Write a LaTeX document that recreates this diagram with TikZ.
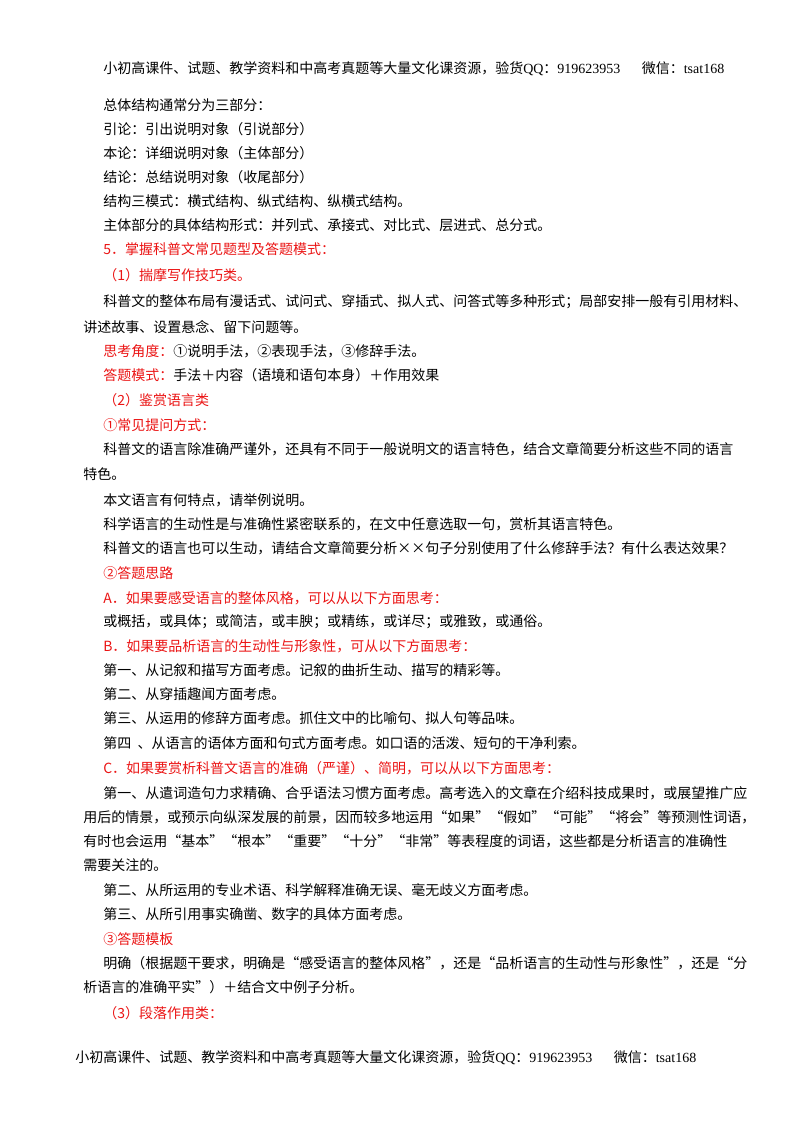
\documentclass[tikz,border=0pt]{standalone}
\usepackage{fontspec}
\setmainfont{Liberation Serif}
\newfontfamily\cjk{Noto Sans CJK SC}
\definecolor{myred}{RGB}{235,20,20}
\begin{document}
\begin{tikzpicture}[x=0.75pt,y=-0.75pt,
  every node/.style={anchor=base west,inner sep=0pt,font=\cjk\fontsize{10.5}{12}\selectfont},
  rd/.style={text=myred}]
\useasboundingbox[fill=white] (0,0) rectangle (800,1132);
\node (h) at (103,73) {小初高课件、试题、教学资料和中高考真题等大量文化课资源，验货{\rmfamily QQ}：{\rmfamily 919623953}\hspace{16pt}微信：{\rmfamily tsat168}};
\node (l1) at (103,110) {总体结构通常分为三部分：};
\node (l2) at (103,134) {引论：引出说明对象（引说部分）};
\node (l3) at (103,158) {本论：详细说明对象（主体部分）};
\node (l4) at (103,182) {结论：总结说明对象（收尾部分）};
\node (l5) at (103,206) {结构三模式：横式结构、纵式结构、纵横式结构。};
\node (l6) at (103,230) {主体部分的具体结构形式：并列式、承接式、对比式、层进式、总分式。};
\node[rd] (l7) at (103,254) {5．掌握科普文常见题型及答题模式：};
\node[rd] (l8) at (103,280) {（1）揣摩写作技巧类。};
\node (l9) at (103,306) {科普文的整体布局有漫话式、试问式、穿插式、拟人式、问答式等多种形式；局部安排一般有引用材料、};
\node (l10) at (83,332) {讲述故事、设置悬念、留下问题等。};
\node (l11) at (103,356) {\textcolor{myred}{思考角度：}①说明手法，②表现手法，③修辞手法。};
\node (l12) at (103,380) {\textcolor{myred}{答题模式：}手法＋内容（语境和语句本身）＋作用效果};
\node[rd] (l13) at (103,405) {（2）鉴赏语言类};
\node[rd] (l14) at (103,430) {①常见提问方式：};
\node (l15) at (103,454) {科普文的语言除准确严谨外，还具有不同于一般说明文的语言特色，结合文章简要分析这些不同的语言};
\node (l16) at (83,479) {特色。};
\node (l17) at (103,505) {本文语言有何特点，请举例说明。};
\node (l18) at (103,529) {科学语言的生动性是与准确性紧密联系的，在文中任意选取一句，赏析其语言特色。};
\node (l19) at (103,553) {科普文的语言也可以生动，请结合文章简要分析××句子分别使用了什么修辞手法？有什么表达效果？};
\node[rd] (l20) at (103,578) {②答题思路};
\node[rd] (l21) at (103,603) {A．如果要感受语言的整体风格，可以从以下方面思考：};
\node (l22) at (103,626) {或概括，或具体；或简洁，或丰腴；或精练，或详尽；或雅致，或通俗。};
\node[rd] (l23) at (103,651) {B．如果要品析语言的生动性与形象性，可从以下方面思考：};
\node (l24) at (103,675) {第一、从记叙和描写方面考虑。记叙的曲折生动、描写的精彩等。};
\node (l25) at (103,699) {第二、从穿插趣闻方面考虑。};
\node (l26) at (103,723) {第三、从运用的修辞方面考虑。抓住文中的比喻句、拟人句等品味。};
\node (l27) at (103,748) {第四\ \ 、从语言的语体方面和句式方面考虑。如口语的活泼、短句的干净利索。};
\node[rd] (l28) at (103,773) {C．如果要赏析科普文语言的准确（严谨）、简明，可以从以下方面思考：};
\node (l29) at (103,798) {第一、从遣词造句力求精确、合乎语法习惯方面考虑。高考选入的文章在介绍科技成果时，或展望推广应};
\node (l30) at (83,822) {用后的情景，或预示向纵深发展的前景，因而较多地运用“如果”“假如”“可能”“将会”等预测性词语，};
\node (l31) at (83,846) {有时也会运用“基本”“根本”“重要”“十分”“非常”等表程度的词语，这些都是分析语言的准确性};
\node (l32) at (83,870) {需要关注的。};
\node (l33) at (103,895) {第二、从所运用的专业术语、科学解释准确无误、毫无歧义方面考虑。};
\node (l34) at (103,919) {第三、从所引用事实确凿、数字的具体方面考虑。};
\node[rd] (l35) at (103,944) {③答题模板};
\node (l36) at (103,968) {明确（根据题干要求，明确是“感受语言的整体风格”，还是“品析语言的生动性与形象性”，还是“分};
\node (l37) at (83,992) {析语言的准确平实”）＋结合文中例子分析。};
\node[rd] (l38) at (103,1018) {（3）段落作用类：};
\node (f) at (75,1062) {小初高课件、试题、教学资料和中高考真题等大量文化课资源，验货{\rmfamily QQ}：{\rmfamily 919623953}\hspace{16pt}微信：{\rmfamily tsat168}};
\end{tikzpicture}
\end{document}
